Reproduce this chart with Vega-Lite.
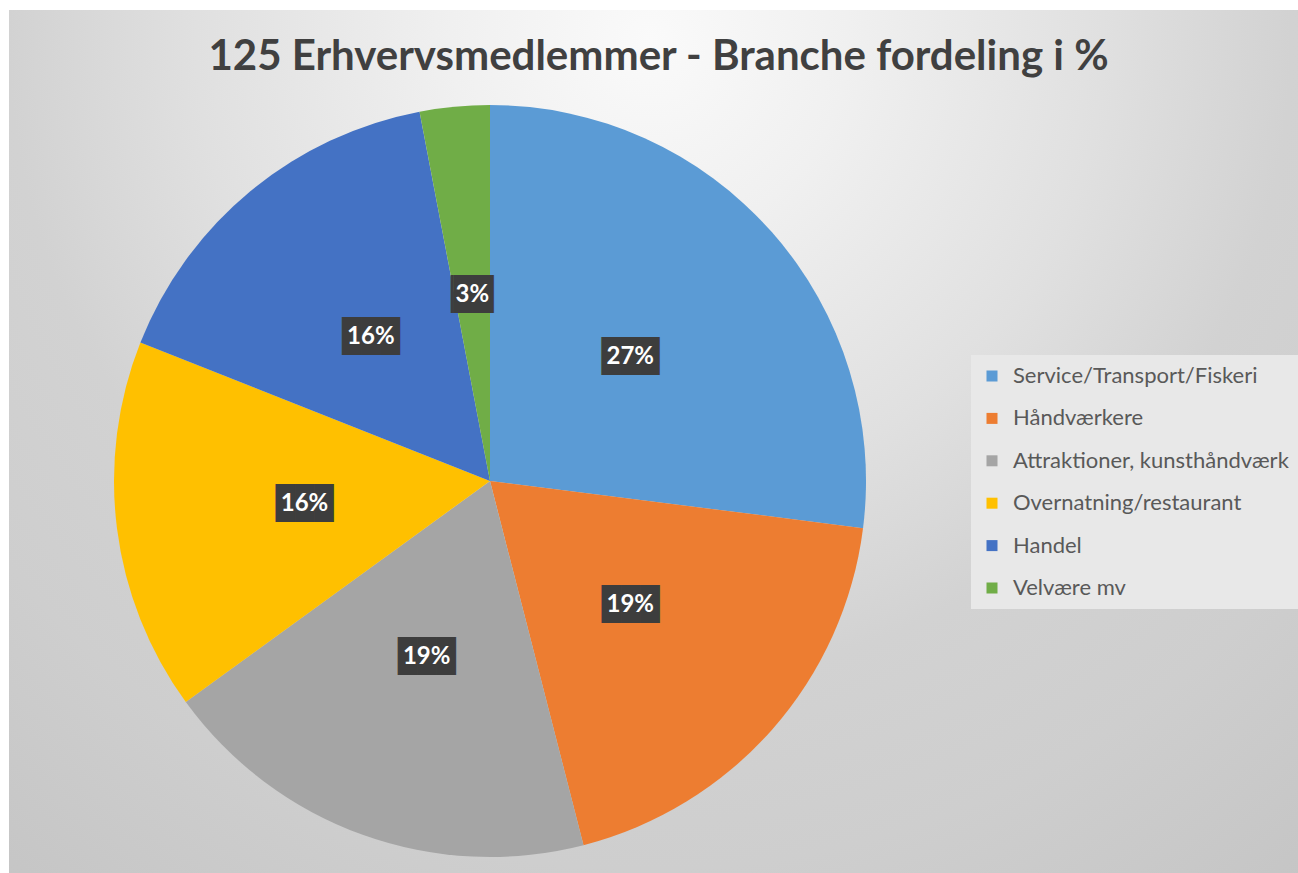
{
  "$schema": "https://vega.github.io/schema/vega-lite/v6.json",
  "padding": {"left": 9, "top": 10, "right": 0, "bottom": 0},
  "background": "#ffffff",
  "config": {"view": {"stroke": null}, "concat": {"spacing": 0}},
  "datasets": {
    "brancher": [
      {"branche": "Service/Transport/Fiskeri", "andel": 0.27},
      {"branche": "Håndværkere", "andel": 0.19},
      {"branche": "Attraktioner, kunsthåndværk", "andel": 0.19},
      {"branche": "Overnatning/restaurant", "andel": 0.16},
      {"branche": "Handel", "andel": 0.16},
      {"branche": "Velvære mv", "andel": 0.03}
    ]
  },
  "vconcat": [
    {
      "width": 1289,
      "height": 79,
      "view": {
        "stroke": null,
        "fill": {
          "gradient": "radial",
          "x1": 0.4973, "y1": 0.4926, "r1": 0,
          "x2": 0.4973, "y2": 0.4926, "r2": 0.858,
          "stops": [
            {"offset": 0, "color": "#fafafa"},
            {"offset": 0.18, "color": "#f0f0f0"},
            {"offset": 0.41, "color": "#e0e0e0"},
            {"offset": 0.58, "color": "#d2d2d2"},
            {"offset": 0.75, "color": "#cecece"},
            {"offset": 0.94, "color": "#c6c6c6"},
            {"offset": 1, "color": "#c4c4c4"}
          ]
        }
      },
      "data": {"values": [{"titel": "125 Erhvervsmedlemmer - Branche fordeling i %"}]},
      "mark": {"type": "text", "font": "Lato", "fontSize": 42, "fontWeight": "bold", "color": "#404040", "align": "center", "baseline": "middle", "dx": 5, "dy": 7},
      "encoding": {"text": {"field": "titel", "type": "nominal"}}
    },
    {
      "hconcat": [
        {
          "width": 962,
          "height": 784,
          "view": {
            "stroke": null,
            "fill": {
              "gradient": "radial",
              "x1": 0.6663, "y1": 0.0416, "r1": 0,
              "x2": 0.6663, "y2": 0.0416, "r2": 1.1497,
              "stops": [
                {"offset": 0, "color": "#fafafa"},
                {"offset": 0.18, "color": "#f0f0f0"},
                {"offset": 0.41, "color": "#e0e0e0"},
                {"offset": 0.58, "color": "#d2d2d2"},
                {"offset": 0.75, "color": "#cecece"},
                {"offset": 0.94, "color": "#c6c6c6"},
                {"offset": 1, "color": "#c4c4c4"}
              ]
            }
          },
          "data": {"name": "brancher"},
          "encoding": {
            "theta": {"field": "andel", "type": "quantitative", "stack": true},
            "order": {"field": "andel", "type": "quantitative", "sort": "descending"},
            "detail": {"field": "branche", "type": "nominal"}
          },
          "layer": [
            {
              "mark": {"type": "arc", "outerRadius": 376},
              "encoding": {
                "color": {
                  "field": "branche",
                  "type": "nominal",
                  "scale": {
                    "domain": ["Service/Transport/Fiskeri", "Håndværkere", "Attraktioner, kunsthåndværk", "Overnatning/restaurant", "Handel", "Velvære mv"],
                    "range": ["#5B9BD5", "#ED7D31", "#A5A5A5", "#FFC000", "#4472C4", "#70AD47"]
                  },
                  "legend": null
                }
              }
            },
            {
              "mark": {"type": "text", "radius": 187, "font": "DejaVu Sans Mono", "fontSize": 32, "align": "center", "baseline": "middle"},
              "encoding": {
                "text": {"condition": {"test": "datum.andel < 0.1", "value": "▕██▏"}, "value": "███"},
                "color": {"value": "#3d3d3d"}
              }
            },
            {
              "mark": {"type": "text", "radius": 187, "font": "Lato", "fontSize": 24, "fontWeight": "bold", "align": "center", "baseline": "middle"},
              "encoding": {
                "text": {"field": "andel", "type": "quantitative", "format": ".0%"},
                "color": {"value": "#ffffff"}
              }
            }
          ]
        },
        {
          "width": 327,
          "height": 784,
          "view": {
            "stroke": null,
            "fill": {
              "gradient": "radial",
              "x1": -0.118, "y1": -0.0625, "r1": 0,
              "x2": -0.118, "y2": -0.0625, "r2": 1.4107,
              "stops": [
                {"offset": 0, "color": "#fafafa"},
                {"offset": 0.18, "color": "#f0f0f0"},
                {"offset": 0.41, "color": "#e0e0e0"},
                {"offset": 0.58, "color": "#d2d2d2"},
                {"offset": 0.75, "color": "#cecece"},
                {"offset": 0.94, "color": "#c6c6c6"},
                {"offset": 1, "color": "#c4c4c4"}
              ]
            }
          },
          "data": {"name": "brancher"},
          "mark": {"type": "arc", "outerRadius": 0},
          "encoding": {
            "theta": {"field": "andel", "type": "quantitative"},
            "color": {
              "field": "branche",
              "type": "nominal",
              "scale": {
                "domain": ["Service/Transport/Fiskeri", "Håndværkere", "Attraktioner, kunsthåndværk", "Overnatning/restaurant", "Handel", "Velvære mv"],
                "range": ["#5B9BD5", "#ED7D31", "#A5A5A5", "#FFC000", "#4472C4", "#70AD47"]
              },
              "legend": {
                "orient": "none",
                "legendX": 0,
                "legendY": 266,
                "title": null,
                "symbolType": "square",
                "symbolSize": 121,
                "symbolStrokeWidth": 0,
                "symbolOpacity": 1,
                "labelFont": "Lato",
                "labelFontSize": 22,
                "labelColor": "#595959",
                "labelLimit": 400,
                "labelOffset": 10,
                "rowPadding": 20.4,
                "padding": 10,
                "fillColor": "#e8e8e8"
              }
            }
          }
        }
      ],
      "spacing": 0,
      "bounds": "flush",
      "resolve": {"legend": {"color": "independent"}}
    }
  ],
  "spacing": 0,
  "bounds": "flush"
}
